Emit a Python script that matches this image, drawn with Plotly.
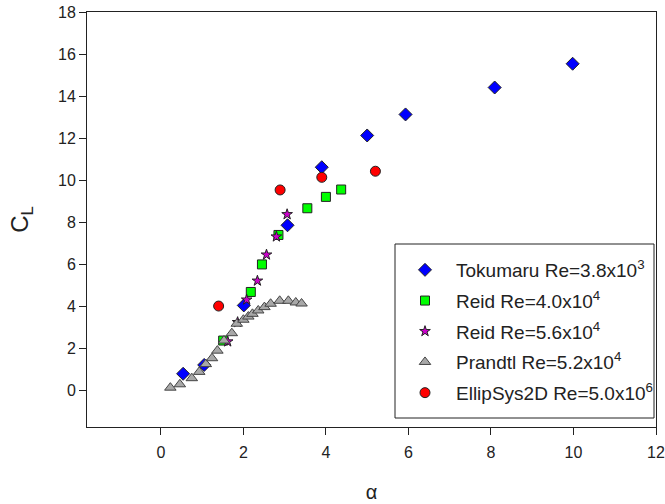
import plotly.graph_objects as go

# Tokumaru Re=3.8x10^3
tok_x = [0.54, 1.05, 2.01, 3.07, 3.90, 5.00, 5.93, 8.09, 9.98]
tok_y = [0.80, 1.22, 4.05, 7.86, 10.62, 12.13, 13.13, 14.41, 15.54]

# Reid Re=4.0x10^4
reid40_x = [1.51, 2.18, 2.45, 2.85, 3.55, 4.00, 4.37]
reid40_y = [2.38, 4.69, 6.00, 7.40, 8.67, 9.21, 9.56]

# Reid Re=5.6x10^4
reid56_x = [1.62, 1.86, 2.08, 2.34, 2.56, 2.80, 3.06]
reid56_y = [2.33, 3.25, 4.32, 5.22, 6.46, 7.32, 8.38]

# Prandtl Re=5.2x10^4
pr_x = [0.23, 0.46, 0.75, 0.93, 1.09, 1.24, 1.37, 1.53, 1.72, 1.84, 2.00, 2.12, 2.22,
        2.36, 2.51, 2.66, 2.88, 3.09, 3.27, 3.41]
pr_y = [0.14, 0.30, 0.59, 0.89, 1.26, 1.54, 1.90, 2.38, 2.73, 3.18, 3.37, 3.52, 3.65,
        3.81, 3.97, 4.13, 4.27, 4.27, 4.19, 4.14]

# EllipSys2D Re=5.0x10^6
ell_x = [1.40, 2.89, 3.90, 5.20]
ell_y = [4.02, 9.54, 10.14, 10.43]

x_ticks = [0, 2, 4, 6, 8, 10, 12]
y_ticks = [0, 2, 4, 6, 8, 10, 12, 14, 16, 18]

LINE = dict(color="#222222", width=1)

W, H = 665, 504
ML, MR, MT, MB = 87, 9, 12, 77
PW, PH = W - ML - MR, H - MT - MB

def px_x(p):
    return (p - ML) / PW

def px_y(p):
    return (H - MB - p) / PH

fig = go.Figure()
fig.add_trace(go.Scatter(x=tok_x, y=tok_y, mode="markers", name="Tokumaru Re=3.8x10<sup>3</sup>",
                         legendgroup="g1",
                         marker=dict(symbol="diamond", size=10, color="#0000ff", line=LINE)))
fig.add_trace(go.Scatter(x=reid40_x, y=reid40_y, mode="markers", name="Reid Re=4.0x10<sup>4</sup>",
                         legendgroup="g2",
                         marker=dict(symbol="square", size=9, color="#00ff00", line=LINE)))
fig.add_trace(go.Scatter(x=reid56_x, y=reid56_y, mode="markers", name="Reid Re=5.6x10<sup>4</sup>",
                         legendgroup="g3",
                         marker=dict(symbol="star", size=8, color="#cc00cc", line=LINE)))
fig.add_trace(go.Scatter(x=pr_x, y=pr_y, mode="markers", name="Prandtl Re=5.2x10<sup>4</sup>",
                         legendgroup="g4",
                         marker=dict(symbol="triangle-up", size=10, color="#a8a8a8",
                                     line=dict(color="#444444", width=1))))
fig.add_trace(go.Scatter(x=ell_x, y=ell_y, mode="markers", name="EllipSys2D Re=5.0x10<sup>6</sup>",
                         legendgroup="g5",
                         marker=dict(symbol="circle", size=10, color="#ff0000", line=LINE)))

# legend frame
fig.add_shape(type="rect", xref="paper", yref="paper",
              x0=px_x(395), x1=px_x(654), y0=px_y(418), y1=px_y(244),
              line=dict(color="#222222", width=1), fillcolor="white", layer="above")

fig.update_layout(
    width=W, height=H,
    margin=dict(l=ML, r=MR, t=MT, b=MB, autoexpand=False),
    paper_bgcolor="white", plot_bgcolor="white",
    font=dict(family="Liberation Sans, Arial, sans-serif", color="#222222"),
    showlegend=True,
    legend=dict(x=px_x(394), y=px_y(251), xanchor="left", yanchor="top",
                borderwidth=0, bgcolor="rgba(0,0,0,0)",
                font=dict(size=19, color="#222222"), itemwidth=52,
                tracegroupgap=3, itemsizing="trace"),
)
fig.update_xaxes(range=[-1.79, 12], tickvals=x_ticks, ticktext=[str(v) for v in x_ticks],
                 showgrid=False, zeroline=False, showline=True, linecolor="#222222", linewidth=1,
                 mirror=True, ticks="outside", ticklen=7, tickcolor="#222222",
                 tickfont=dict(size=16, color="#222222"), ticklabelstandoff=4,
                 automargin=False,
                 title=dict(text="α", font=dict(size=20), standoff=24))
fig.update_yaxes(range=[-1.73, 18], tickvals=y_ticks, ticktext=[str(v) for v in y_ticks],
                 showgrid=False, zeroline=False, showline=True, linecolor="#222222", linewidth=1,
                 mirror=True, ticks="outside", ticklen=7, tickcolor="#222222",
                 tickfont=dict(size=16, color="#222222"),
                 automargin=False,
                 title=dict(text="C<sub>L</sub>", font=dict(size=24), standoff=22))

fig.write_html("out.html", config={"displayModeBar": False},
               post_script="document.body.style.margin='0';document.body.style.overflow='hidden';")
